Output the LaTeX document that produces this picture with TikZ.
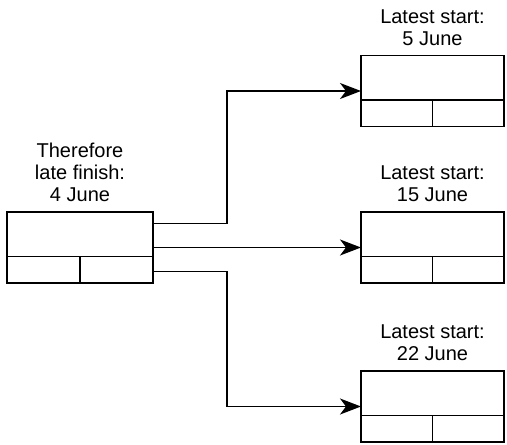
\documentclass[tikz,border=0pt]{standalone}
\usepackage{fontspec}
\setmainfont{Liberation Sans}
\usetikzlibrary{arrows.meta,positioning,calc}

\tikzset{
    activity/.style={draw, line width=1.8pt, minimum width=143pt, minimum height=71pt, inner sep=0pt, outer sep=0pt},
    caption/.style={align=center, inner sep=0pt, font=\fontsize{20}{22}\selectfont},
    flow/.style={line width=1.8pt, -{Stealth[length=21pt,width=16pt,inset=6pt]}}
}

\begin{document}
\begin{tikzpicture}[x=1pt,y=-1pt]
    \useasboundingbox (0,0) rectangle (507,445);

    \node[activity, minimum width=146pt] (finish) at (80,247.5) {};
    \node[activity] (early) at (432.5,91) {};
    \node[activity] (middle) at (432.5,247.5) {};
    \node[activity] (late) at (432.5,406.5) {};

    % lower half split in two
    \foreach \act in {finish,early,middle,late} {
        \draw[line width=1.8pt] ($(\act.south west)+(0,-26.5)$) -- ($(\act.south east)+(0,-26.5)$);
        \draw[line width=1.8pt] (\act.south) -- ($(\act.south)+(0,-26.5)$);
    }

    \node[caption, above=10pt of finish] (finishlabel) {Therefore\\late finish:\\4 June};
    \node[caption, above=10pt of early] (earlylabel) {Latest start:\\5 June};
    \node[caption, above=10pt of middle] (middlelabel) {Latest start:\\15 June};
    \node[caption, above=10pt of late] (latelabel) {Latest start:\\22 June};

    \draw[flow] ([yshift=24pt]finish.east) -- ++(74,0) |- (early.west);
    \draw[flow] (finish.east) -- (middle.west);
    \draw[flow] ([yshift=-24pt]finish.east) -- ++(74,0) |- (late.west);

\end{tikzpicture}
\end{document}
